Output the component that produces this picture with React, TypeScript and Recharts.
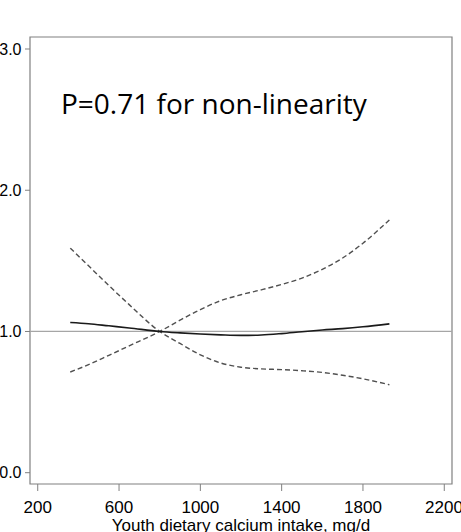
import React from 'react';
import { LineChart, Line, XAxis, YAxis, ReferenceLine, ReferenceArea } from 'recharts';

// calcium intake (mg/d) at which the curves were read
const intake = [360, 450, 550, 650, 800, 900, 1000, 1100, 1200, 1300, 1400, 1500, 1600, 1700, 1800, 1930];
const estimate = [1.064, 1.055, 1.04, 1.025, 1.0, 0.99, 0.982, 0.976, 0.972, 0.975, 0.985, 0.998, 1.01, 1.02, 1.033, 1.054];
const upperCI = [1.59, 1.465, 1.325, 1.19, 1.0, 0.915, 0.835, 0.777, 0.747, 0.735, 0.73, 0.722, 0.71, 0.69, 0.665, 0.623];
const lowerCI = [0.713, 0.765, 0.831, 0.898, 1.0, 1.08, 1.155, 1.218, 1.26, 1.295, 1.333, 1.378, 1.44, 1.52, 1.625, 1.79];

const xTicks = [200, 600, 1000, 1400, 1800, 2200];
const yTicks = [0, 1, 2, 3];

const data = intake.map((x, i) => ({ x, est: estimate[i], hi: upperCI[i], lo: lowerCI[i] }));

const X_DOMAIN: [number, number] = [162, 2238];
const Y_DOMAIN: [number, number] = [-0.08, 3.085];

const App = () => {
  return (
    <div style={{ position: 'absolute', left: 0, top: 0, width: 461, height: 532, fontFamily: 'Arial, "Liberation Sans", sans-serif' }}>
      <LineChart width={461} height={532} data={data} margin={{ top: 37, right: 9, left: 0, bottom: 0 }}>
        <XAxis
          dataKey="x"
          type="number"
          domain={X_DOMAIN}
          ticks={xTicks}
          allowDataOverflow
          height={48}
          axisLine={false}
          tickLine={{ stroke: '#808080' }}
          tickSize={7}
          tickMargin={9.5}
          tick={{ fill: '#000', fontSize: 17 }}
          label={{ value: 'Youth dietary calcium intake, mg/d', position: 'insideBottom', offset: 1, fill: '#000', fontSize: 17 }}
        />
        <YAxis
          type="number"
          domain={Y_DOMAIN}
          ticks={yTicks}
          allowDataOverflow
          width={30}
          axisLine={false}
          tickLine={{ stroke: '#808080' }}
          tickSize={5}
          tickMargin={3.5}
          tick={{ fill: '#000', fontSize: 16 }}
          tickFormatter={(v: number) => v.toFixed(1)}
        />
        <ReferenceArea x1={X_DOMAIN[0]} x2={X_DOMAIN[1]} y1={Y_DOMAIN[0]} y2={Y_DOMAIN[1]} fill="none" fillOpacity={0} stroke="#808080" strokeWidth={1.2} />
        <ReferenceLine y={1} stroke="#a6a6a6" strokeWidth={1.2} />
        <Line type="monotone" dataKey="hi" stroke="#505050" strokeWidth={1.4} strokeDasharray="5 3" dot={false} isAnimationActive={false} />
        <Line type="monotone" dataKey="lo" stroke="#505050" strokeWidth={1.4} strokeDasharray="5 3" dot={false} isAnimationActive={false} />
        <Line type="monotone" dataKey="est" stroke="#1a1a1a" strokeWidth={1.6} dot={false} isAnimationActive={false} />
      </LineChart>
      <div
        style={{
          position: 'absolute',
          left: 61,
          top: 85,
          fontFamily: '"Open Sans", "Noto Sans", sans-serif',
          fontSize: 28,
          lineHeight: '36px',
          color: '#000',
          whiteSpace: 'nowrap',
        }}
      >
        P=0.71 for non-linearity
      </div>
    </div>
  );
};

export default App;
